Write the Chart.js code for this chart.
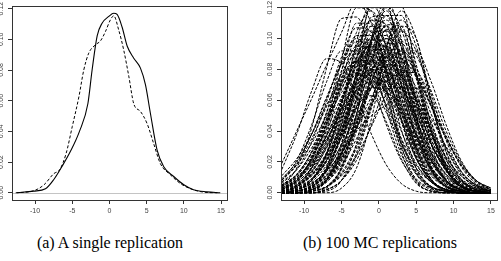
<!DOCTYPE html>
<html>
<head>
<meta charset="utf-8">
<script src="https://cdn.jsdelivr.net/npm/chart.js@4.4.0/dist/chart.umd.min.js"></script>
<style>
  body { margin: 0; background: #fff; width: 501px; height: 261px; position: relative; overflow: hidden; }
  .panel { position: absolute; top: 0; }
  .cap { position: absolute; top: 234px; width: 220px; text-align: center;
         font-family: "Liberation Serif", "DejaVu Serif", serif; font-size: 16px; color: #000; white-space: nowrap; }
</style>
</head>
<body>
<canvas id="chartA" class="panel" style="left:0" width="250" height="222"></canvas>
<canvas id="chartB" class="panel" style="left:250px" width="251" height="222"></canvas>
<div class="cap" style="left:0">(a) A single replication</div>
<div class="cap" style="left:270px">(b) 100 MC replications</div>
<script>
// tick labels
const xTicks = [-10, -5, 0, 5, 10, 15];
const yTicks = [0, 0.02, 0.04, 0.06, 0.08, 0.10, 0.12];

// (a) single replication: solid and dashed density estimates
const solidX = [-12.4, -10.2, -8.6, -7.5, -6.4, -5.24, -4.03, -2.9, -2.33, -1.65, -0.99, -0.09, 0.58, 1.03, 1.7, 2.38, 3.27, 4.17, 4.84, 5.5, 6.4, 7.3, 8.64, 10.0, 11.3, 13.1, 14.9];
const solidY = [0, 0.0011, 0.0026, 0.0085, 0.017, 0.027, 0.040, 0.058, 0.080, 0.1023, 0.1105, 0.1149, 0.117, 0.1162, 0.108, 0.0956, 0.0877, 0.0812, 0.0704, 0.052, 0.028, 0.017, 0.0106, 0.0052, 0.002, 0.0006, 0];
const dashedX = [-12.6, -10.2, -8.8, -7.5, -6.67, -5.82, -5.0, -4.1, -3.45, -2.78, -1.88, -1.2, -0.54, 0.13, 0.58, 1.25, 1.92, 2.6, 3.27, 4.17, 5.07, 5.95, 6.85, 8.2, 9.55, 10.9, 12.7, 14.5];
const dashedY = [0, 0.0013, 0.0052, 0.0124, 0.0152, 0.0257, 0.0431, 0.0627, 0.080, 0.091, 0.0964, 0.099, 0.105, 0.1127, 0.1153, 0.106, 0.093, 0.076, 0.058, 0.053, 0.045, 0.032, 0.019, 0.0117, 0.006, 0.0026, 0.0004, 0];

// (b) Monte Carlo replications, read on a common grid
const mcX = [-13, -11, -9, -7, -5, -3, -1, 1, 3, 5, 7, 9, 11, 13, 15];
const mcCurves = [
  [.000,.001,.004,.014,.032,.061,.088,.100,.088,.061,.032,.014,.004,.001,.000],
  [.000,.001,.004,.014,.038,.072,.101,.102,.079,.048,.023,.008,.002,.001,.000],
  [.001,.004,.013,.030,.058,.084,.095,.084,.058,.030,.013,.004,.001,.000,.000],
  [.000,.000,.001,.004,.015,.040,.076,.106,.106,.076,.040,.015,.004,.001,.000],
  [.000,.000,.001,.008,.030,.073,.114,.115,.083,.043,.016,.004,.001,.000,.000],
  [.002,.008,.021,.045,.074,.095,.094,.068,.035,.013,.004,.001,.000,.000,.000],
  [.000,.000,.002,.008,.026,.060,.098,.115,.098,.060,.026,.008,.002,.000,.000],
  [.000,.000,.001,.004,.012,.029,.056,.081,.092,.081,.056,.029,.012,.004,.001],
  [.000,.002,.008,.025,.056,.092,.108,.095,.066,.035,.015,.005,.001,.000,.000],
  [.001,.004,.012,.026,.048,.070,.086,.086,.070,.048,.026,.012,.004,.001,.000],
  [.000,.000,.002,.008,.021,.044,.072,.092,.093,.076,.051,.029,.013,.005,.001],
  [.002,.007,.023,.052,.085,.100,.088,.061,.032,.014,.004,.001,.000,.000,.000],
  [.000,.000,.000,.004,.017,.051,.100,.125,.100,.051,.017,.004,.000,.000,.000],
  [.002,.007,.016,.033,.054,.072,.080,.072,.054,.033,.016,.007,.002,.001,.000],
  [.000,.001,.004,.015,.040,.077,.108,.108,.077,.040,.015,.004,.001,.000,.000],
  [.000,.001,.004,.011,.026,.046,.068,.083,.082,.064,.039,.018,.007,.002,.000],
  [.001,.004,.016,.041,.079,.110,.110,.079,.041,.016,.004,.001,.000,.000,.000],
  [.000,.000,.000,.002,.008,.024,.055,.089,.105,.092,.064,.034,.014,.005,.001],
  [.000,.001,.004,.012,.029,.055,.079,.090,.082,.060,.037,.019,.008,.003,.001],
  [.000,.000,.003,.016,.050,.098,.122,.104,.063,.028,.009,.002,.000,.000,.000],
  [.000,.002,.008,.021,.044,.072,.093,.093,.072,.044,.021,.008,.002,.000,.000],
  [.004,.016,.042,.081,.113,.114,.089,.054,.025,.009,.003,.001,.000,.000,.000],
  [.000,.000,.000,.001,.008,.032,.078,.121,.121,.078,.032,.008,.001,.000,.000],
  [.001,.002,.006,.015,.031,.050,.068,.075,.068,.050,.031,.015,.006,.002,.001],
  [.001,.004,.014,.032,.061,.088,.100,.085,.052,.023,.007,.002,.000,.000,.000],
  [.001,.004,.009,.021,.038,.056,.068,.068,.056,.038,.021,.009,.004,.001,.000],
  [.000,.000,.000,.000,.003,.016,.048,.094,.118,.100,.061,.027,.009,.002,.000],
  [.004,.012,.026,.048,.070,.086,.085,.066,.040,.019,.007,.002,.000,.000,.000],
  [.000,.000,.002,.008,.025,.056,.092,.108,.095,.066,.035,.015,.005,.001,.000],
  [.000,.000,.001,.009,.032,.079,.123,.123,.079,.032,.009,.001,.000,.000,.000],
  [.000,.001,.002,.008,.022,.046,.076,.097,.097,.076,.046,.022,.008,.002,.001],
  [.003,.008,.019,.037,.060,.082,.090,.079,.055,.029,.012,.004,.001,.000,.000],
  [.000,.000,.000,.002,.008,.021,.044,.072,.092,.092,.072,.044,.021,.008,.002],
  [.004,.011,.027,.052,.075,.085,.077,.057,.035,.018,.007,.002,.001,.000,.000],
  [.001,.003,.008,.020,.039,.064,.086,.095,.081,.049,.022,.007,.002,.000,.000],
  [.001,.002,.008,.022,.047,.077,.099,.098,.070,.037,.014,.004,.001,.000,.000],
  [.002,.008,.023,.048,.079,.102,.102,.079,.048,.023,.008,.002,.001,.000,.000],
  [.000,.001,.004,.011,.023,.042,.062,.076,.076,.062,.042,.023,.011,.004,.001],
  [.000,.000,.002,.009,.027,.061,.100,.118,.094,.048,.016,.003,.000,.000,.000],
  [.000,.002,.008,.026,.058,.095,.112,.095,.058,.026,.008,.002,.000,.000,.000],
  [.015,.038,.066,.087,.084,.062,.038,.018,.006,.001,.000,.000,.000,.000,.000],
  [.019,.040,.061,.083,.104,.124,.110,.080,.048,.022,.008,.002,.000,.000,.000],
  [.000,.001,.005,.016,.036,.056,.063,.046,.022,.006,.001,.000,.000,.000,.000],
  [.000,.002,.006,.014,.026,.040,.050,.057,.062,.060,.048,.030,.014,.005,.001],
  [.000,.000,.002,.008,.022,.045,.072,.095,.108,.100,.060,.022,.006,.001,.000],
  [.002,.008,.022,.045,.072,.085,.075,.072,.080,.068,.040,.017,.005,.001,.000],
  [.000,.002,.008,.025,.058,.088,.095,.080,.068,.068,.045,.018,.005,.001,.000],
  [.000,.001,.003,.010,.025,.048,.073,.088,.087,.075,.056,.036,.019,.008,.002],
  [.008,.018,.032,.050,.068,.085,.096,.094,.070,.038,.014,.004,.001,.000,.000],
  [.000,.002,.007,.018,.036,.055,.068,.072,.064,.046,.026,.011,.004,.001,.000],
  [.005,.011,.024,.041,.062,.078,.085,.075,.052,.027,.011,.004,.001,.000,.000],
  [.008,.018,.035,.056,.077,.090,.088,.063,.033,.012,.003,.001,.000,.000,.000],
  [.003,.009,.019,.037,.059,.082,.096,.095,.074,.045,.021,.008,.002,.000,.000],
  [.011,.022,.038,.057,.072,.078,.071,.052,.032,.016,.007,.002,.001,.000,.000],
  [.002,.006,.014,.029,.051,.076,.097,.105,.089,.055,.024,.008,.002,.000,.000],
  [.004,.010,.020,.035,.052,.066,.072,.066,.052,.035,.020,.010,.004,.001,.000],
  [.000,.001,.003,.009,.024,.051,.085,.109,.108,.077,.040,.015,.004,.001,.000],
  [.001,.005,.017,.045,.086,.120,.118,.076,.031,.008,.001,.000,.000,.000,.000],
  [.001,.004,.011,.025,.044,.066,.080,.080,.068,.050,.031,.016,.007,.003,.001],
  [.000,.001,.002,.007,.018,.035,.057,.077,.085,.077,.057,.035,.018,.007,.002],
  [.005,.012,.026,.045,.067,.085,.092,.083,.062,.038,.019,.008,.003,.001,.000],
  [.001,.003,.009,.025,.053,.087,.112,.109,.070,.029,.008,.001,.000,.000,.000],
  [.002,.005,.011,.023,.040,.060,.076,.082,.076,.060,.040,.023,.011,.005,.002],
  [.009,.020,.038,.061,.084,.098,.097,.076,.046,.022,.008,.002,.001,.000,.000],
  [.000,.000,.001,.004,.016,.043,.083,.115,.115,.083,.043,.016,.004,.001,.000],
  [.000,.000,.001,.004,.013,.031,.060,.086,.098,.089,.066,.040,.020,.008,.003],
  [.001,.005,.016,.038,.072,.104,.118,.094,.048,.016,.003,.000,.000,.000,.000],
  [.003,.008,.018,.034,.055,.075,.088,.088,.075,.055,.034,.018,.008,.003,.001],
  [.001,.003,.009,.021,.041,.067,.091,.100,.088,.061,.032,.014,.004,.001,.000],
  [.008,.019,.038,.062,.083,.092,.081,.056,.029,.012,.004,.001,.000,.000,.000],
  [.007,.015,.029,.047,.065,.076,.076,.065,.047,.029,.015,.007,.003,.001,.000],
  [.000,.001,.004,.015,.039,.075,.104,.105,.086,.058,.032,.015,.005,.002,.000],
  [.000,.002,.006,.014,.026,.042,.058,.069,.068,.056,.038,.021,.009,.004,.001],
  [.000,.001,.005,.015,.036,.068,.099,.112,.095,.058,.026,.008,.002,.000,.000],
  [.003,.009,.022,.043,.070,.095,.105,.089,.055,.024,.008,.002,.000,.000,.000],
  [.000,.000,.001,.004,.011,.024,.043,.064,.078,.078,.060,.037,.017,.006,.002],
  [.008,.021,.044,.072,.092,.092,.072,.044,.021,.008,.002,.000,.000,.000,.000],
  [.000,.001,.005,.017,.045,.086,.120,.120,.086,.045,.017,.005,.001,.000,.000],
  [.002,.005,.012,.024,.042,.063,.080,.087,.077,.053,.028,.012,.004,.001,.000],
  [.004,.010,.021,.037,.055,.070,.076,.069,.051,.031,.016,.006,.002,.001,.000],
  [.000,.000,.000,.002,.008,.026,.058,.095,.112,.095,.058,.026,.008,.002,.000],
  [.006,.015,.033,.059,.088,.107,.104,.067,.027,.007,.001,.000,.000,.000,.000],
  [.000,.000,.002,.007,.020,.042,.069,.089,.090,.077,.056,.035,.018,.008,.003],
  [.003,.007,.016,.030,.049,.067,.078,.078,.060,.037,.017,.006,.002,.000,.000],
  [.000,.000,.000,.003,.016,.050,.097,.121,.106,.074,.039,.016,.005,.001,.000]
];

const tickFont = { family: 'Liberation Sans', size: 7 };

// box, zero line and rotated y labels (R style)
const rFrame = {
  id: 'rFrame',
  beforeDatasetsDraw(chart) {
    const { ctx, chartArea: a, scales: { y } } = chart;
    const y0 = Math.round(y.getPixelForValue(0)) + 0.5;
    ctx.save();
    ctx.strokeStyle = '#c4c4c4';
    ctx.lineWidth = 1;
    ctx.beginPath();
    ctx.moveTo(a.left, y0);
    ctx.lineTo(a.right, y0);
    ctx.stroke();
    ctx.restore();
  },
  afterDraw(chart) {
    const { ctx, chartArea: a, scales: { y } } = chart;
    ctx.save();
    ctx.strokeStyle = '#333';
    ctx.lineWidth = 1;
    ctx.strokeRect(Math.round(a.left) + 0.5, Math.round(a.top) + 0.5,
                   Math.round(a.right - a.left) - 1, Math.round(a.bottom - a.top));
    ctx.fillStyle = '#444';
    ctx.font = '7px "Liberation Sans"';
    ctx.textAlign = 'center';
    ctx.textBaseline = 'middle';
    y.ticks.forEach(t => {
      ctx.save();
      ctx.translate(a.left - 10.5, y.getPixelForValue(t.value));
      ctx.rotate(-Math.PI / 2);
      ctx.fillText(t.value.toFixed(2), 0, 0);
      ctx.restore();
    });
    ctx.restore();
  }
};

function makeScales(yMax, yWidth) {
  return {
    x: {
      type: 'linear', min: -13.1, max: 15.94,
      afterBuildTicks: s => { s.ticks = xTicks.map(v => ({ value: v })); },
      afterFit: s => { s.height = 22; },
      grid: { drawOnChartArea: false, drawTicks: true, tickLength: 4, color: '#333' },
      border: { display: false },
      ticks: { font: tickFont, color: '#444', padding: 3, autoSkip: false, maxRotation: 0,
               callback: v => String(v) }
    },
    y: {
      type: 'linear', min: -0.0047, max: yMax,
      afterBuildTicks: s => { s.ticks = yTicks.map(v => ({ value: v })); },
      afterFit: s => { s.width = yWidth; },
      grid: { drawOnChartArea: false, drawTicks: true, tickLength: 4, color: '#333' },
      border: { display: false },
      ticks: { display: false }
    }
  };
}

const common = {
  responsive: false,
  animation: false,
  devicePixelRatio: 1,
  plugins: { legend: { display: false }, tooltip: { enabled: false } },
  elements: { point: { radius: 0 }, line: { cubicInterpolationMode: 'monotone' } }
};

new Chart(document.getElementById('chartA'), {
  type: 'line',
  data: {
    datasets: [
      { data: solidX.map((x, i) => ({ x: x, y: solidY[i] })), borderColor: '#000', borderWidth: 1.1 },
      { data: dashedX.map((x, i) => ({ x: x, y: dashedY[i] })), borderColor: '#000', borderWidth: 1, borderDash: [3, 2] }
    ]
  },
  options: Object.assign({}, common, {
    layout: { padding: { left: 0, top: 6, right: 22, bottom: 0 } },
    scales: makeScales(0.1217, 12)
  }),
  plugins: [rFrame]
});

new Chart(document.getElementById('chartB'), {
  type: 'line',
  data: {
    datasets: mcCurves.map(c => ({
      data: mcX.map((x, i) => ({ x: x, y: c[i] })),
      borderColor: '#000', borderWidth: 1, borderDash: [3, 1.5]
    }))
  },
  options: Object.assign({}, common, {
    layout: { padding: { left: 0, top: 7, right: 3, bottom: 0 } },
    scales: makeScales(0.1205, 31)
  }),
  plugins: [rFrame]
});
</script>
</body>
</html>
